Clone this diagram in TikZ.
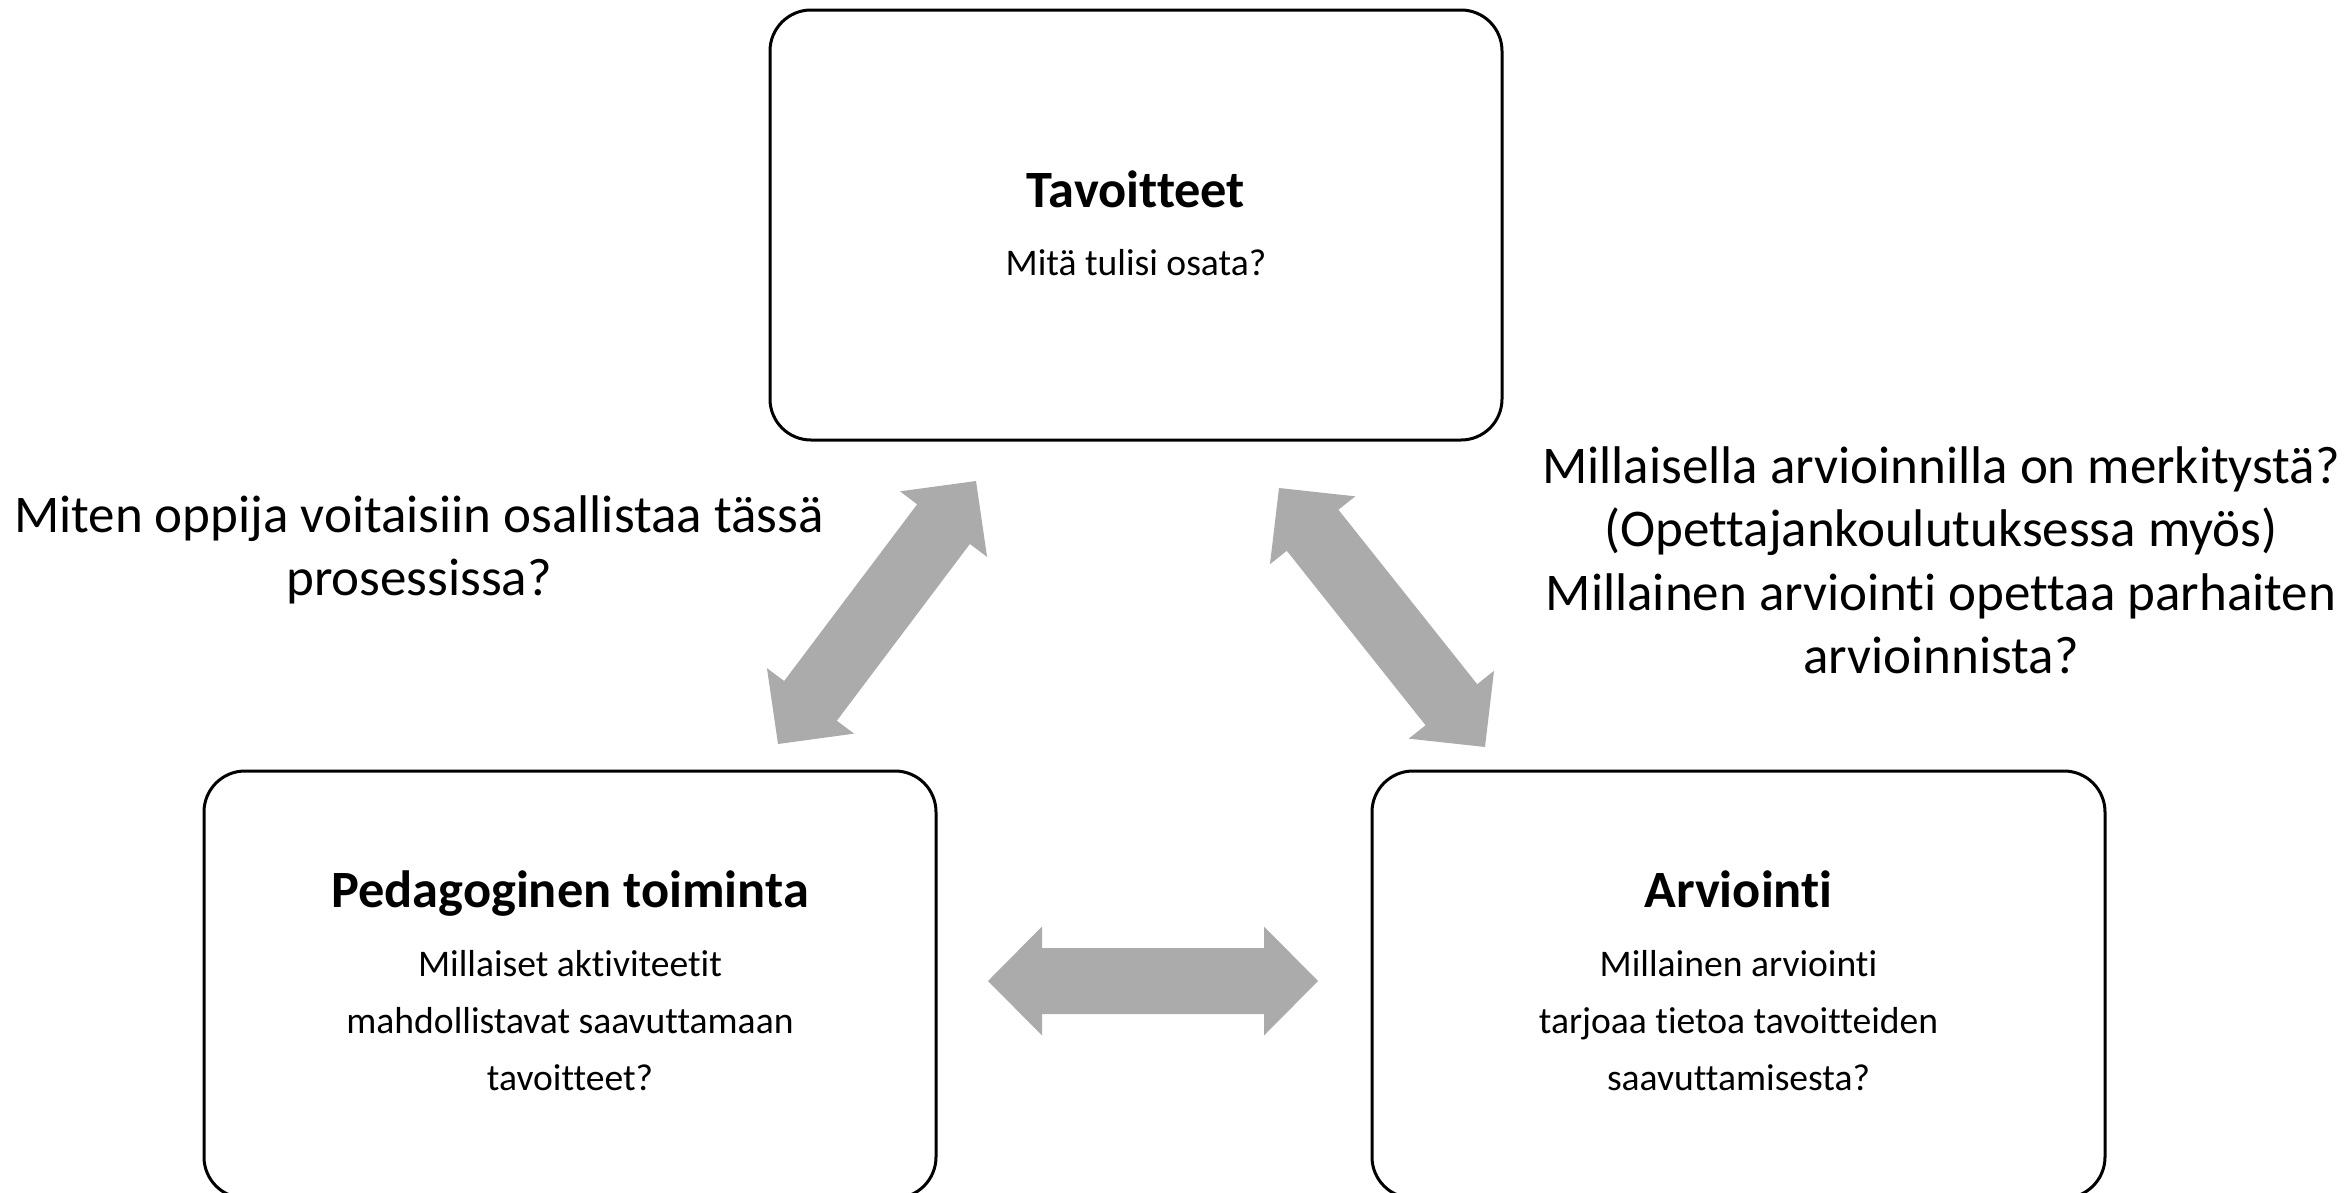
\documentclass[tikz,border=0pt]{standalone}
\usepackage{fontspec}
\setmainfont{Carlito}[Ligatures=NoCommon]
\usetikzlibrary{calc}
\definecolor{arrowgray}{HTML}{ABABAB}
\newcommand{\headlen}{54}
\newcommand{\headwd}{54.5}
\newcommand{\shaftwd}{33}

% block arrow with a head at both ends, from #1 to #2
\newcommand{\dblarrow}[2]{%
  \pgfpointdiff{\pgfpointanchor{#1}{center}}{\pgfpointanchor{#2}{center}}%
  \pgfgetlastxy{\ardx}{\ardy}%
  \pgfmathsetmacro{\arlen}{veclen(\ardx,\ardy)}%
  \pgfmathsetmacro{\arang}{atan2(\ardy,\ardx)}%
  \fill[arrowgray, shift={(#1)}, rotate=\arang]
    (0,0) -- (\headlen,\headwd) -- (\headlen,\shaftwd) -- ({\arlen-\headlen},\shaftwd)
    -- ({\arlen-\headlen},\headwd) -- (\arlen,0) -- ({\arlen-\headlen},-\headwd)
    -- ({\arlen-\headlen},-\shaftwd) -- (\headlen,-\shaftwd) -- (\headlen,-\headwd) -- cycle;
}

\begin{document}
\begin{tikzpicture}[x=1pt, y=-1pt,
    box/.style={draw, line width=3pt, rounded corners=41pt, minimum width=732pt},
    title/.style={anchor=base, font=\fontsize{52.4}{63}\selectfont\bfseries},
    body/.style={anchor=base, font=\fontsize{37.6}{45}\selectfont},
    question/.style={anchor=base, font=\fontsize{53}{64}\selectfont}]
  \useasboundingbox (0,0) rectangle (2351,1192);

  % boxes
  \node (goals) at (1136,225) [box, minimum height=430pt] {};
  \node (pedagogy) at (570,984.5) [box, minimum height=427pt] {};
  \node (assessment) at (1738.5,984.5) [box, minimum height=427pt, minimum width=733pt] {};

  \node (goalstitle) at (1136,207) [title] {Tavoitteet};
  \node (goalsq) at (1136,275) [body] {Mitä tulisi osata?};

  \node (pedtitle) at (570,907) [title] {Pedagoginen toiminta};
  \foreach \txt [count=\i from 0] in {{Millaiset aktiviteetit},{mahdollistavat saavuttamaan},{tavoitteet?}}
  {
    \node (ped\i) at (570,{976+57*\i}) [body] {\txt};
  }

  \node (asstitle) at (1738.5,907) [title] {Arviointi};
  \foreach \txt [count=\i from 0] in {{Millainen arviointi},{tarjoaa tietoa tavoitteiden},{saavuttamisesta?}}
  {
    \node (ass\i) at (1738.5,{976+57*\i}) [body] {\txt};
  }

  % questions beside the arrows
  \foreach \txt [count=\i from 0] in {{Miten oppija voitaisiin osallistaa tässä},{prosessissa?}}
  {
    \node (leftq\i) at (419,{532+63*\i}) [question] {\txt};
  }
  \foreach \txt [count=\i from 0] in {{Millaisella arvioinnilla on merkitystä?},{(Opettajankoulutuksessa myös)},{Millainen arviointi opettaa parhaiten},{arvioinnista?}}
  {
    \node (rightq\i) at (1941,{483+63.5*\i}) [question] {\txt};
  }

  % arrows
  \coordinate (pg) at (778,744);
  \coordinate (gp) at (976,481);
  \coordinate (ga) at (1279,488);
  \coordinate (ag) at (1485,747);
  \coordinate (pa) at (988,981);
  \coordinate (ap) at (1318,981);
  \dblarrow{pg}{gp}
  \dblarrow{ga}{ag}
  \dblarrow{pa}{ap}
\end{tikzpicture}
\end{document}
